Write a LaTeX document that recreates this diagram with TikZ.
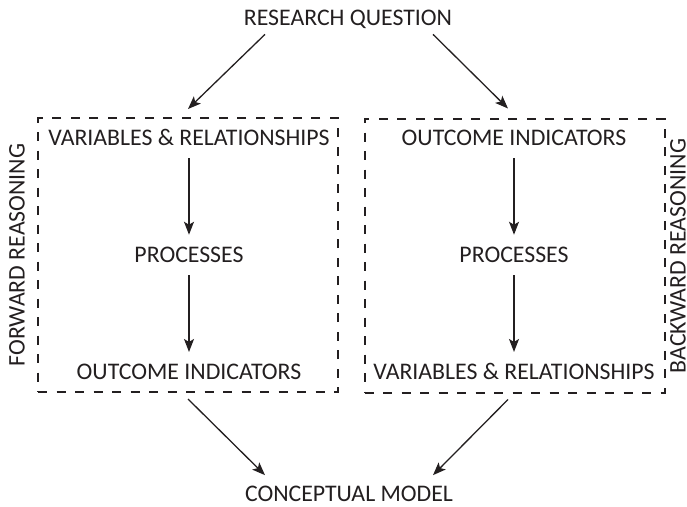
\documentclass[tikz,border=0pt]{standalone}
\usepackage{fontspec}
\setmainfont{Carlito}
\usetikzlibrary{arrows.meta}
\definecolor{ink}{HTML}{231F20}
\tikzset{
  lbl/.style={inner sep=0pt, text height=15.3pt, text depth=0pt, text=ink, font=\fontsize{23.8}{28}\selectfont},
  side/.style={lbl, rotate=90, anchor=north},
  frame/.style={draw=ink, line width=2pt, dash pattern=on 9pt off 9.5pt, minimum width=300pt, minimum height=274pt, inner sep=0pt},
  arr/.style={draw=ink, line width=1.3pt, -{Stealth[length=13pt,width=10pt,inset=3pt]}},
}
\begin{document}
\begin{tikzpicture}[x=1pt,y=-1pt]
\useasboundingbox (0,0) rectangle (687,506);
\node[frame] (L) at (188,255) {};
\node[frame] (R) at (514.5,255.5) {};
\node[lbl] (RQ) at (348,17.5) {RESEARCH QUESTION};
\node[lbl] (CM) at (349,494) {CONCEPTUAL MODEL};
\node[lbl] (V1) at (189,137.8) {VARIABLES \& RELATIONSHIPS};
\node[lbl] (P1) at (189,255) {PROCESSES};
\node[lbl] (O1) at (189,372) {OUTCOME INDICATORS};
\node[lbl] (O2) at (514,137.8) {OUTCOME INDICATORS};
\node[lbl] (P2) at (514,255) {PROCESSES};
\node[lbl] (V2) at (514,372) {VARIABLES \& RELATIONSHIPS};
\node[side] (FW) at (9,255) {FORWARD REASONING};
\node[side] (BW) at (670,256) {BACKWARD REASONING};
\draw[arr, shorten <=12.6pt, shorten >=12.4pt] (V1) -- (P1);
\draw[arr, shorten <=12.4pt, shorten >=12.2pt] (P1) -- (O1);
\draw[arr, shorten <=12.6pt, shorten >=12.4pt] (O2) -- (P2);
\draw[arr, shorten <=12.4pt, shorten >=12.2pt] (P2) -- (V2);
\draw[arr] ([xshift=-83pt,yshift=-9pt]RQ.south) -- ([yshift=8pt]L.north);
\draw[arr] ([xshift=85pt,yshift=-9pt]RQ.south) -- ([xshift=-6.5pt,yshift=9pt]R.north);
\draw[arr] ([yshift=-6pt]L.south) -- ([xshift=-84pt,yshift=11pt]CM.north);
\draw[arr] ([xshift=-6.5pt,yshift=-6pt]R.south) -- ([xshift=84pt,yshift=11pt]CM.north);
\end{tikzpicture}
\end{document}
